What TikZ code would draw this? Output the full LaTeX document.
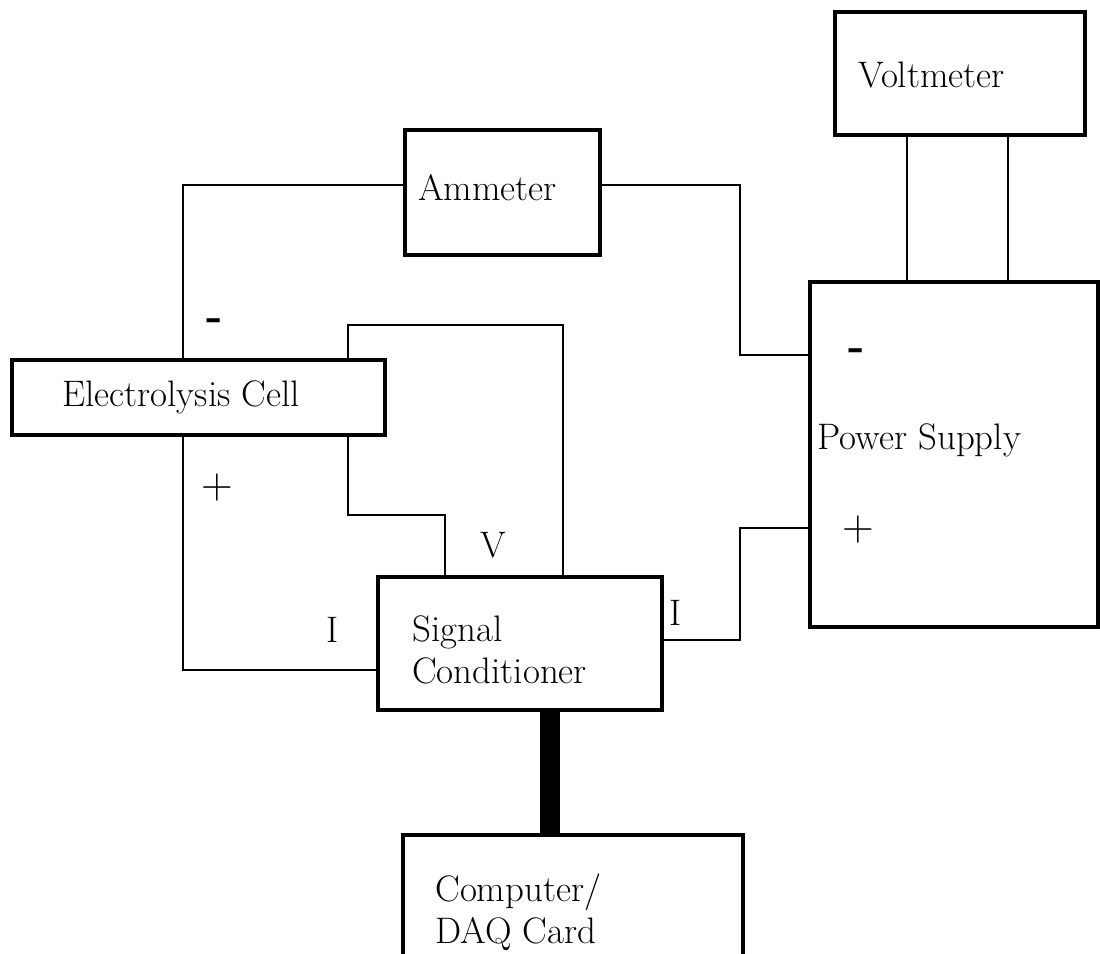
\documentclass[tikz,border=0pt]{standalone}
\usepackage{tikz}

\begin{document}
\begin{tikzpicture}[x=0.02cm,y=-0.02cm,
  box/.style={draw, line width=2.6pt, inner sep=0pt},
  wire/.style={line width=1pt},
  lbl/.style={anchor=west, inner sep=0pt, align=left, font=\fontsize{21}{24}\selectfont},
  sgn/.style={inner sep=0pt, font=\fontsize{25}{25}\selectfont}]

% the page, the computer box runs off its bottom edge
\clip (0,0) rectangle (1100,954);

%% the boxes
\node[box, minimum width=5cm,    minimum height=2.46cm] (volt) at (960,73.5) {};
\node[box, minimum width=5.76cm, minimum height=6.9cm]  (psu)  at (954,454.5) {};
\node[box, minimum width=3.9cm,  minimum height=2.5cm]  (amm)  at (502.5,192.5) {};
\node[box, minimum width=7.46cm, minimum height=1.5cm]  (cell) at (198.5,397.5) {};
\node[box, minimum width=5.68cm, minimum height=2.66cm] (cond) at (520,643.5) {};
\node[box, minimum width=6.8cm,  minimum height=4cm]    (daq)  at (573,935) {};

% box texts
\node[lbl] (volt-t) at (858,75)  {Voltmeter};
\node[lbl] (psu-t)  at (817,440) {Power Supply};
\node[lbl] (amm-t)  at (418,188) {Ammeter};
\node[lbl] (cell-t) at (62,397)  {Electrolysis Cell};
\node[lbl] (cond-t) at (412,650) {Signal\\Conditioner};
\node[lbl] (daq-t)  at (435,912) {Computer/\\DAQ Card};

%% the wires
% ammeter loop
\draw[wire] (amm.west |- 0,185) -| (cell.north -| 183,0);
\draw[wire] (amm.east |- 0,185) -| (740,355) -- (psu.west |- 0,355);
% current sense
\draw[wire] (cell.south -| 183,0) |- (cond.west |- 0,670);
\draw[wire] (cond.east |- 0,640) -| (740,528) -- (psu.west |- 0,528);
% voltage sense
\draw[wire] (cell.north -| 348,0) |- (563,325) -- (cond.north -| 563,0);
\draw[wire] (cell.south -| 348,0) |- (445,515) -- (cond.north -| 445,0);
% voltmeter leads
\foreach \x in {907,1008}
  \draw[wire] (volt.south -| \x,0) -- (psu.north -| \x,0);
% data bus
\draw[line width=11pt] (cond.south -| 550,0) -- (daq.north -| 550,0);

%% the signs
\node[sgn] (cell-m) at (215,325) {\bfseries -};
\node[sgn] (cell-p) at (217,488) {+};
\node[sgn] (psu-m)  at (857,355) {\bfseries -};
\node[sgn] (psu-p)  at (858,530) {+};
\node[lbl] (i-l) at (326,630) {I};
\node[lbl] (v-l) at (480,545) {V};
\node[lbl] (i-r) at (669,613) {I};

\end{tikzpicture}
\end{document}
